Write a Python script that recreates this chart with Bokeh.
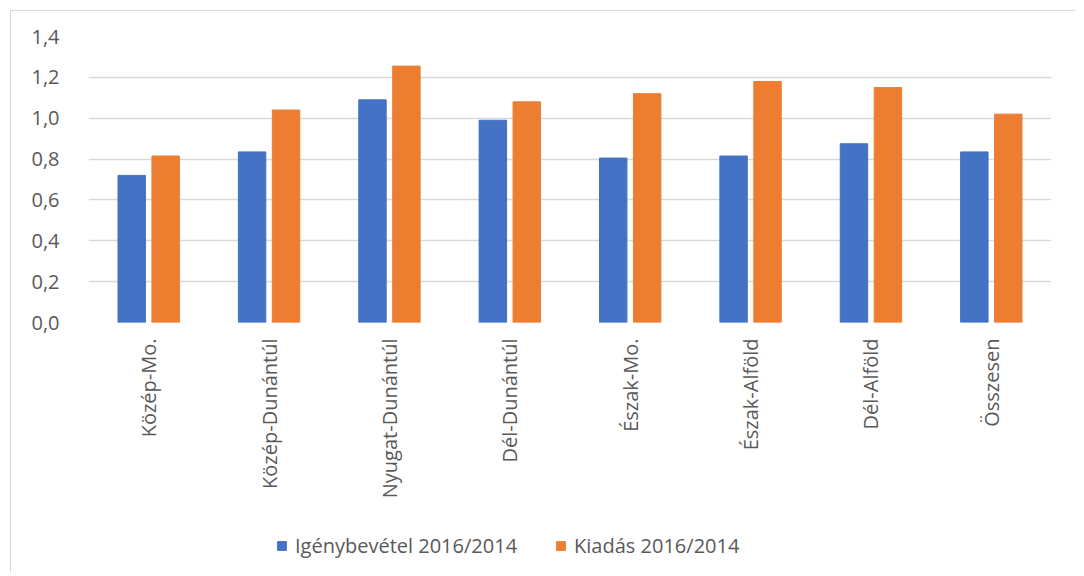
import math
from bokeh.plotting import figure
from bokeh.layouts import column
from bokeh.models import ColumnDataSource, FactorRange, Range1d, FixedTicker, Legend, LegendItem
from bokeh.transform import dodge
from bokeh.embed import file_html
from bokeh.resources import INLINE

categories = ["Közép-Mo.", "Közép-Dunántúl", "Nyugat-Dunántúl", "Dél-Dunántúl",
              "Észak-Mo.", "Észak-Alföld", "Dél-Alföld", "Összesen"]
igenybevetel = [0.72, 0.835, 1.09, 0.99, 0.805, 0.815, 0.875, 0.835]
kiadas = [0.815, 1.04, 1.255, 1.08, 1.12, 1.18, 1.15, 1.02]
series_names = ["Igénybevétel 2016/2014", "Kiadás 2016/2014"]
y_ticks = [0.0, 0.2, 0.4, 0.6, 0.8, 1.0, 1.2, 1.4]
y_tick_labels = ["0,0", "0,2", "0,4", "0,6", "0,8", "1,0", "1,2", "1,4"]

BLUE = "#4472C4"
ORANGE = "#ED7D31"
TXT = "#595959"
FONT = "Open Sans"

src = ColumnDataSource(dict(cat=categories, a=igenybevetel, b=kiadas))

p = figure(x_range=FactorRange(*categories, range_padding=0), y_range=Range1d(0, 1.4),
           width=1064, height=511, output_backend="svg", toolbar_location=None,
           min_border_left=77, min_border_right=24, min_border_top=25, min_border_bottom=200)
p.outline_line_color = None

p.vbar(x=dodge("cat", -0.141, range=p.x_range), top="a", width=0.228, source=src,
       fill_color=BLUE, line_color=BLUE)
p.vbar(x=dodge("cat", 0.141, range=p.x_range), top="b", width=0.228, source=src,
       fill_color=ORANGE, line_color=ORANGE)

p.xgrid.grid_line_color = None
p.ygrid.grid_line_color = "#d9d9d9"
p.ygrid.grid_line_width = 1.5

p.yaxis.ticker = FixedTicker(ticks=y_ticks)
p.yaxis.major_label_overrides = {t: l for t, l in zip(y_ticks, y_tick_labels)}
p.yaxis.axis_line_color = None
p.yaxis.major_tick_line_color = None
p.yaxis.minor_tick_line_color = None
p.yaxis.major_label_standoff = 23
p.yaxis.major_label_text_font = FONT
p.yaxis.major_label_text_font_size = "20px"
p.yaxis.major_label_text_color = TXT

p.xaxis.axis_line_color = None
p.xaxis.major_tick_line_color = None
p.xaxis.minor_tick_line_color = None
p.xaxis.major_label_orientation = math.pi / 2
p.xaxis.major_label_standoff = 10
p.xaxis.major_label_text_font = FONT
p.xaxis.major_label_text_font_size = "20px"
p.xaxis.major_label_text_color = TXT

# legend strip below the chart (its bars fall outside its visible y range)
lg = figure(x_range=FactorRange(*categories, range_padding=0), y_range=Range1d(5, 6),
            width=1064, height=50, output_backend="svg", toolbar_location=None,
            min_border_left=0, min_border_right=0, min_border_top=0, min_border_bottom=0)
lg.axis.visible = False
lg.grid.visible = False
lg.outline_line_color = None
l1 = lg.vbar(x="cat", top="a", width=0.2, source=src, fill_color=BLUE, line_color=BLUE)
l2 = lg.vbar(x="cat", top="b", width=0.2, source=src, fill_color=ORANGE, line_color=ORANGE)

legend = Legend(items=[LegendItem(label=series_names[0], renderers=[l1]),
                       LegendItem(label=series_names[1], renderers=[l2])],
                orientation="horizontal", location=(188, 13),
                label_text_font=FONT, label_text_font_size="20px", label_text_color=TXT,
                glyph_width=11, glyph_height=11, spacing=38, padding=0, margin=0,
                label_standoff=8, border_line_color=None, background_fill_alpha=0)
lg.add_layout(legend, "center")

layout = column(p, lg, spacing=0)
layout.styles = {"margin-left": "10px", "margin-top": "10px",
                 "border-left": "1px solid #d9d9d9", "border-top": "1px solid #d9d9d9"}

open("out.html", "w").write(file_html(layout, INLINE))
